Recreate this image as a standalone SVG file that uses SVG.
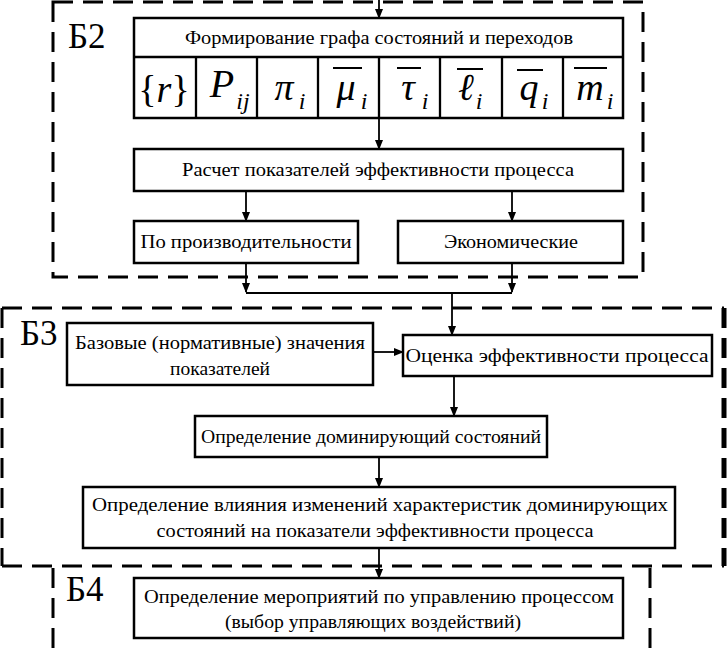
<svg xmlns="http://www.w3.org/2000/svg" width="728" height="648" viewBox="0 0 728 648">
<defs>
<marker id="ah" markerWidth="10" markerHeight="8" refX="9" refY="4" orient="auto" markerUnits="userSpaceOnUse">
<path d="M0,0 L10,4 L0,8 Z" fill="#000"/>
</marker>
</defs>
<rect width="728" height="648" fill="#fff"/>

<g id="frames" fill="none" stroke="#000" stroke-width="3" stroke-dasharray="20 10">
<path d="M53,2 H643 V277 H53 Z"/>
<path d="M2,308 H724 M2,566 H724 M2,308 V566"/>
<path d="M724,308 V566" stroke-width="5"/>
<path d="M53,568 V648"/>
<path d="M650,568 V648"/>
</g>
<g id="block-labels" font-family="Liberation Serif" font-size="35" fill="#000">
<text x="68" y="48">Б2</text>
<text x="20" y="345">Б3</text>
<text x="66" y="601">Б4</text>
</g>

<g id="connectors" fill="none" stroke="#000" stroke-width="1.8">
<path d="M379,0 V18" marker-end="url(#ah)"/>
<path d="M379,118 V149" marker-end="url(#ah)"/>
<path d="M246,191 V221" marker-end="url(#ah)"/>
<path d="M512,191 V221" marker-end="url(#ah)"/>
<path d="M246,263 V292" marker-end="url(#ah)"/>
<path d="M512,263 V292" marker-end="url(#ah)"/>
<path d="M246,293 H512"/>
<path d="M452,293 V335" marker-end="url(#ah)"/>
<path d="M373,352 H403" marker-end="url(#ah)"/>
<path d="M454,376 V416" marker-end="url(#ah)"/>
<path d="M379,457 V487" marker-end="url(#ah)"/>
<path d="M379,548 V578" marker-end="url(#ah)"/>
</g>

<g id="graph-table">
<rect x="134" y="18" width="489" height="100" fill="#fff" stroke="#000" stroke-width="2.5"/>
<path d="M134,57 H623 M196,57 V118 M257,57 V118 M318,57 V118 M379,57 V118 M440,57 V118 M502,57 V118 M563,57 V118" fill="none" stroke="#000" stroke-width="2.3"/>
<path d="M333,68 H362 M397,68 H421 M457,69 H483 M517,70 H543 M574,68 H607" stroke="#000" stroke-width="2"/>
<g font-family="Liberation Serif" fill="#000" text-anchor="middle">
<text x="379" y="44" font-size="19" textLength="388" lengthAdjust="spacingAndGlyphs">Формирование графа состояний и переходов</text>
<text x="164" y="102" font-size="38">{<tspan font-style="italic">r</tspan>}</text>
<g font-style="italic">
<text x="222" y="97" font-size="40">P</text>
<text x="243" y="109" font-size="24">ij</text>
<text x="284" y="100" font-size="38">π</text>
<text x="302" y="109" font-size="24">i</text>
<text x="346" y="100" font-size="38">μ</text>
<text x="364" y="109" font-size="24">i</text>
<text x="408" y="100" font-size="38">τ</text>
<text x="425" y="109" font-size="24">i</text>
<text x="466" y="100" font-size="38">ℓ</text>
<text x="479" y="109" font-size="24">i</text>
<text x="529" y="100" font-size="38">q</text>
<text x="545" y="109" font-size="24">i</text>
<text x="590" y="100" font-size="38">m</text>
<text x="610" y="109" font-size="24">i</text>
</g>
</g>
</g>

<g id="calc">
<rect x="134" y="149" width="489" height="42" fill="#fff" stroke="#000" stroke-width="2.5"/>
<text x="378" y="176" font-family="Liberation Serif" font-size="19" text-anchor="middle" textLength="392" lengthAdjust="spacingAndGlyphs">Расчет показателей эффективности процесса</text>
</g>

<g id="productivity">
<rect x="134" y="221" width="224" height="42" fill="#fff" stroke="#000" stroke-width="2.5"/>
<text x="246" y="248" font-family="Liberation Serif" font-size="19" text-anchor="middle" textLength="211" lengthAdjust="spacingAndGlyphs">По производительности</text>
</g>

<g id="economic">
<rect x="398" y="221" width="225" height="42" fill="#fff" stroke="#000" stroke-width="2.5"/>
<text x="511" y="248" font-family="Liberation Serif" font-size="19" text-anchor="middle" textLength="134" lengthAdjust="spacingAndGlyphs">Экономические</text>
</g>

<g id="base-values">
<rect x="67" y="323" width="306" height="62" fill="#fff" stroke="#000" stroke-width="2.5"/>
<text x="220" y="349" font-family="Liberation Serif" font-size="19" text-anchor="middle" textLength="290" lengthAdjust="spacingAndGlyphs">Базовые (нормативные) значения</text>
<text x="220" y="375" font-family="Liberation Serif" font-size="19" text-anchor="middle" textLength="100" lengthAdjust="spacingAndGlyphs">показателей</text>
</g>

<g id="evaluation">
<rect x="403" y="335" width="309" height="41" fill="#fff" stroke="#000" stroke-width="2.5"/>
<text x="557" y="362" font-family="Liberation Serif" font-size="19" text-anchor="middle" textLength="303" lengthAdjust="spacingAndGlyphs">Оценка эффективности процесса</text>
</g>

<g id="dominant">
<rect x="195" y="416" width="352" height="41" fill="#fff" stroke="#000" stroke-width="2.5"/>
<text x="371" y="443" font-family="Liberation Serif" font-size="19" text-anchor="middle" textLength="340" lengthAdjust="spacingAndGlyphs">Определение доминирующий состояний</text>
</g>

<g id="influence">
<rect x="83" y="487" width="592" height="61" fill="#fff" stroke="#000" stroke-width="2.5"/>
<text x="380" y="511" font-family="Liberation Serif" font-size="19" text-anchor="middle" textLength="576" lengthAdjust="spacingAndGlyphs">Определение влияния изменений характеристик доминирующих</text>
<text x="375" y="537" font-family="Liberation Serif" font-size="19" text-anchor="middle" textLength="437" lengthAdjust="spacingAndGlyphs">состояний на показатели эффективности процесса</text>
</g>

<g id="measures">
<rect x="134" y="578" width="489" height="60" fill="#fff" stroke="#000" stroke-width="2.5"/>
<text x="379" y="603" font-family="Liberation Serif" font-size="19" text-anchor="middle" textLength="470" lengthAdjust="spacingAndGlyphs">Определение мероприятий по управлению процессом</text>
<text x="373" y="628" font-family="Liberation Serif" font-size="19" text-anchor="middle" textLength="296" lengthAdjust="spacingAndGlyphs">(выбор управляющих воздействий)</text>
</g>
</svg>
